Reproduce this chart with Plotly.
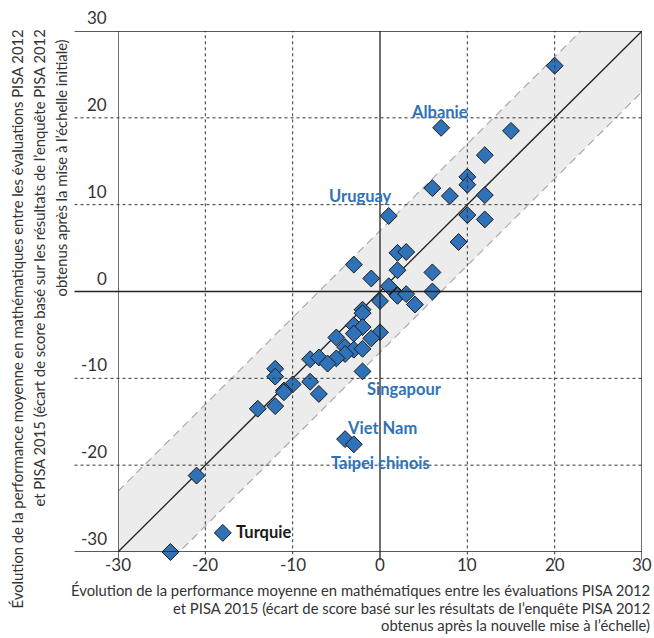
import plotly.graph_objects as go

# Change in mean maths performance, PISA 2012 -> 2015
# x: based on rescaled 2012 results, y: based on original 2012 results
x_rescaled = [20, 7, 15, 12, 10, 10, 6, 8, 12, 1, 10, 12, 9, 2, 3, -3, 2, 6, -1, 1,
              6, 2, 2, 3, 0, 4, -2, -2, -3, -2, -3, 0, -1, -5, -4, -3, -2, -4, -5, -8,
              -7, -6, -12, -12, -2, -8, -10, -11, -11, -7, -14, -12, -4, -3, -21, -18, -24]
y_original = [26.0, 18.85, 18.5, 15.7, 13.2, 12.3, 11.9, 11.0, 11.1, 8.7, 8.8, 8.3, 5.7, 4.45, 4.55, 3.1, 2.45, 2.2, 1.5, 0.6,
              0.0, -0.4, -0.5, -0.3, -1.1, -1.5, -2.1, -2.5, -3.9, -4.1, -4.85, -4.7, -5.4, -5.3, -6.4, -6.7, -6.6, -7.2, -7.7, -7.8,
              -7.6, -8.3, -8.9, -9.8, -9.2, -10.4, -10.7, -11.4, -11.6, -11.8, -13.5, -13.2, -17.0, -17.6, -21.2, -27.8, -30.0]

# labelled countries (index into the arrays above)
label_names = ["Albanie", "Uruguay", "Singapour", "Viet Nam", "Taipei chinois", "Turquie"]
label_idx = [1, 9, 44, 52, 53, 55]

band_x = [-30, 30]
band_half_width = 7
axis_ticks = [-30, -20, -10, 0, 10, 20, 30]

x_title = ["Évolution de la performance moyenne en mathématiques entre les évaluations PISA 2012",
           "et PISA 2015 (écart de score basé sur les résultats de l’enquête PISA 2012",
           "obtenus après la nouvelle mise à l’échelle)"]
y_title = ["Évolution de la performance moyenne en mathématiques entre les évaluations PISA 2012",
           "et PISA 2015 (écart de score basé sur les résultats de l’enquête PISA 2012",
           "obtenus après la mise à l’échelle initiale)"]

FONT = "Lato"
BLUE = "#2f72b8"
TXT = "#333333"

fig = go.Figure()

# grey band +/- 7 points around the diagonal
fig.add_trace(go.Scatter(x=band_x, y=[v - band_half_width for v in band_x], mode="lines",
                         line=dict(color="#aaaaaa", width=1.2, dash="8px,5px"), hoverinfo="skip"))
fig.add_trace(go.Scatter(x=band_x, y=[v + band_half_width for v in band_x], mode="lines",
                         line=dict(color="#aaaaaa", width=1.2, dash="8px,5px"),
                         fill="tonexty", fillcolor="#ececec", hoverinfo="skip"))
# grid lines (drawn over the band)
for t in axis_ticks:
    solid = t in (-30, 0, 30)
    ln = dict(color="#222222" if solid else "#333333", width=1.3 if solid else 1,
              dash="solid" if solid else "3px,3px")
    fig.add_shape(type="line", xref="x", yref="paper", x0=t, x1=t, y0=-0.016, y1=1, line=ln)
    fig.add_shape(type="line", xref="paper", yref="y", x0=-0.083, x1=1, y0=t, y1=t, line=ln)
# diagonal y = x
fig.add_trace(go.Scatter(x=band_x, y=band_x, mode="lines",
                         line=dict(color="#222222", width=1.3), hoverinfo="skip"))
# countries
fig.add_trace(go.Scatter(x=x_rescaled, y=y_original, mode="markers", cliponaxis=False,
                         marker=dict(symbol="diamond", size=13, color=BLUE,
                                     line=dict(color="#1a1a1a", width=1))))

# country labels
shifts = [(-2, 16, "center"), (-28, 20, "center"), (42, -18, "center"),
          (37, 11, "center"), (27, -19, "center"), (11, 1, "left")]
for name, i, (dx, dy, xa) in zip(label_names, label_idx, shifts):
    fig.add_annotation(x=x_rescaled[i], y=y_original[i], text="<b>%s</b>" % name, showarrow=False,
                       xanchor=xa, xshift=dx, yshift=dy,
                       font=dict(family=FONT, size=16.5, color="#1a1a1a" if name == "Turquie" else BLUE))

# tick labels
for t in axis_ticks:
    fig.add_annotation(xref="paper", yref="y", x=-0.017, y=t, text=str(t), showarrow=False,
                       xanchor="right", yanchor="bottom", yshift=1,
                       font=dict(family=FONT, size=17, color=TXT))
    fig.add_annotation(xref="x", yref="paper", x=t, y=0, text=str(t), showarrow=False,
                       xanchor="center", yanchor="top", yshift=0,
                       font=dict(family=FONT, size=17, color=TXT))

# axis titles
for k, line in enumerate(x_title):
    fig.add_annotation(xref="paper", yref="paper", x=1.019, y=0, text=line, showarrow=False,
                       xanchor="right", yanchor="top", yshift=-27 - 17.5 * k,
                       font=dict(family=FONT, size=14.8, color=TXT))
for k, line in enumerate(y_title):
    fig.add_annotation(xref="paper", yref="paper", x=0, y=1, text=line, showarrow=False, textangle=-90,
                       xanchor="center", yanchor="top", xshift=-102 + 22 * k, yshift=3 - (10 if k == 2 else 0),
                       font=dict(family=FONT, size=14.8, color=TXT))

fig.update_xaxes(range=[-30, 30], showgrid=False, zeroline=False, showticklabels=False,
                 showline=False, fixedrange=True)
fig.update_yaxes(range=[-30, 30], showgrid=False, zeroline=False, showticklabels=False,
                 showline=False, fixedrange=True)
fig.update_layout(width=654, height=638, showlegend=False, hovermode=False,
                  margin=dict(l=118, r=12, t=31, b=86),
                  paper_bgcolor="white", plot_bgcolor="white")

# drop the default 8px page margin so the figure fills the window exactly
fig.write_html("out.html", config={"displayModeBar": False},
               post_script="document.body.style.margin='0';document.body.style.overflow='hidden';")
